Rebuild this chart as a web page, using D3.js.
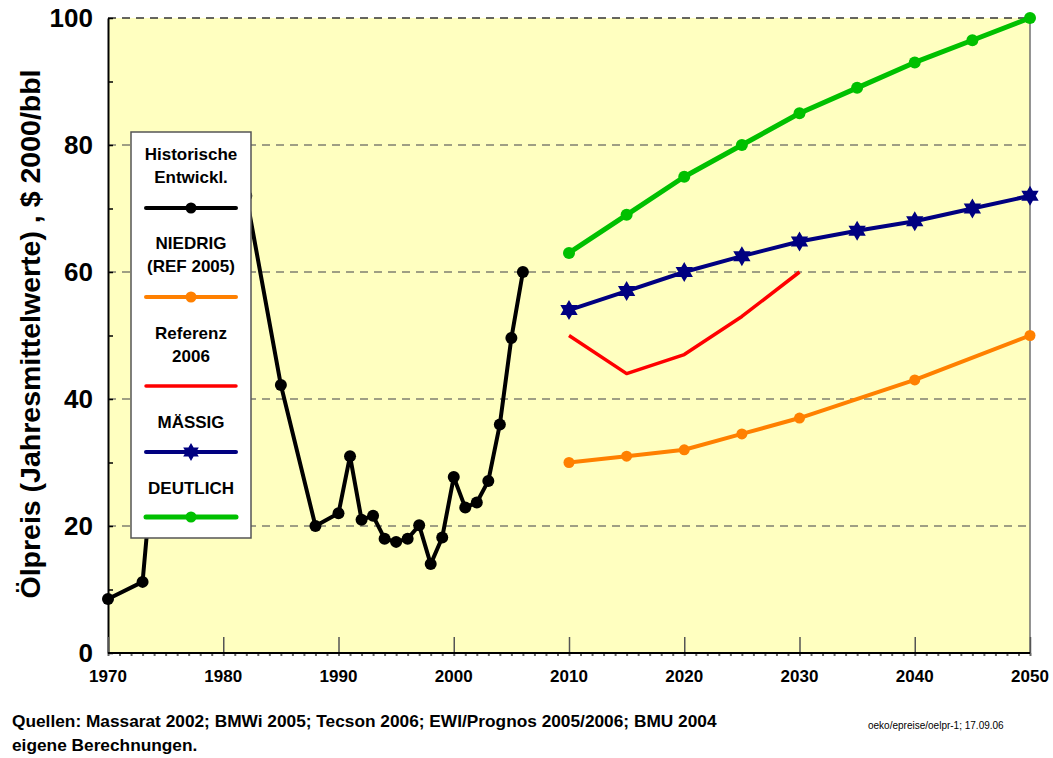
<!DOCTYPE html>
<html>
<head>
<meta charset="utf-8">
<script src="https://d3js.org/d3.v7.min.js"></script>
<style>
  body { margin: 0; background: #fff; }
  svg { font-family: Arial, "Liberation Sans", sans-serif; font-weight: bold; }
</style>
</head>
<body>
<div id="chart"></div>
<script>
// historical oil price (2000 $/bbl)
var histYears = [1970, 1973, 1974, 1979, 1980, 1982, 1985, 1988, 1990, 1991, 1992, 1993, 1994, 1995, 1996, 1997, 1998, 1999, 2000, 2001, 2002, 2003, 2004, 2005, 2006];
var histValues = [8.5, 11.2, 31.5, 60, 78, 72, 42.2, 20, 22, 31, 21, 21.6, 18, 17.5, 18, 20.1, 14, 18.2, 27.7, 22.9, 23.7, 27.1, 36, 49.6, 60];

var scenYears = [2010, 2015, 2020, 2025, 2030, 2035, 2040, 2045, 2050];
var deutlich = [63, 69, 75, 80, 85, 89, 93, 96.5, 100];
var maessig = [54, 57, 60, 62.5, 64.8, 66.5, 68, 70, 72];

var niedrigYears = [2010, 2015, 2020, 2025, 2030, 2040, 2050];
var niedrig = [30, 31, 32, 34.5, 37, 43, 50];

var refYears = [2010, 2015, 2020, 2025, 2030];
var referenz = [50, 44, 47, 53, 60];

var xTicks = [1970, 1980, 1990, 2000, 2010, 2020, 2030, 2040, 2050];
var yTicks = [0, 20, 40, 60, 80, 100];

var width = 1053, height = 758;
var plotLeft = 108, plotRight = 1030, plotTop = 18, plotBottom = 653;

var svg = d3.select("#chart").append("svg")
    .attr("width", width)
    .attr("height", height);

var x = d3.scaleLinear().domain([1970, 2050]).range([plotLeft, plotRight]);
var y = d3.scaleLinear().domain([0, 100]).range([plotBottom, plotTop]);

// plot background
svg.append("rect")
    .attr("x", plotLeft).attr("y", plotTop)
    .attr("width", plotRight - plotLeft).attr("height", plotBottom - plotTop)
    .attr("fill", "#ffffc0");

// dashed gridlines
svg.append("g").selectAll("line")
    .data([20, 40, 60, 80])
    .enter().append("line")
    .attr("x1", plotLeft).attr("x2", plotRight)
    .attr("y1", function(d) { return y(d); })
    .attr("y2", function(d) { return y(d); })
    .attr("stroke", "#808070")
    .attr("stroke-width", 1.5)
    .attr("stroke-dasharray", "8,6");

// top border dashed, right border solid
svg.append("line")
    .attr("x1", plotLeft).attr("x2", plotRight)
    .attr("y1", plotTop).attr("y2", plotTop)
    .attr("stroke", "#333")
    .attr("stroke-width", 1.5)
    .attr("stroke-dasharray", "8,6");
svg.append("line")
    .attr("x1", plotRight).attr("x2", plotRight)
    .attr("y1", plotTop).attr("y2", plotBottom)
    .attr("stroke", "#707070")
    .attr("stroke-width", 1.5);

// y axis: labels outside, minor ticks inside
var yAxis = d3.axisLeft(y).tickValues(yTicks).tickSize(0).tickPadding(15);
var gy = svg.append("g").attr("transform", "translate(" + plotLeft + ",0)").call(yAxis);
gy.select(".domain").attr("stroke", "#000").attr("stroke-width", 2);
gy.selectAll("text")
    .attr("font-size", 26)
    .attr("font-weight", "bold")
    .attr("font-family", "Arial, 'Liberation Sans', sans-serif")
    .attr("fill", "#000");

var yInner = d3.axisRight(y).tickValues(d3.range(0, 101, 10)).tickSize(5).tickFormat("");
var gy2 = svg.append("g").attr("transform", "translate(" + plotLeft + ",0)").call(yInner);
gy2.select(".domain").remove();
gy2.selectAll("line").attr("stroke", "#000").attr("stroke-width", 1.5);

// x axis: major ticks inside, minor marks every year
var xMinor = d3.axisBottom(x).tickValues(d3.range(1970, 2051, 1)).tickSize(3).tickFormat("");
var gx2 = svg.append("g").attr("transform", "translate(0," + plotBottom + ")").call(xMinor);
gx2.select(".domain").remove();
gx2.selectAll("line").attr("stroke", "#666").attr("stroke-width", 2);

var xAxis = d3.axisTop(x).tickValues(xTicks).tickSize(16).tickFormat("");
var gx = svg.append("g").attr("transform", "translate(0," + plotBottom + ")").call(xAxis);
gx.select(".domain").remove();
gx.selectAll("line").attr("stroke", "#555").attr("stroke-width", 1.5);

svg.append("line")
    .attr("x1", plotLeft).attr("x2", plotRight)
    .attr("y1", plotBottom).attr("y2", plotBottom)
    .attr("stroke", "#000").attr("stroke-width", 2);

svg.append("g").selectAll("text")
    .data(xTicks)
    .enter().append("text")
    .attr("x", function(d) { return x(d); })
    .attr("y", 682)
    .attr("text-anchor", "middle")
    .attr("font-size", 17)
    .text(function(d) { return d; });

// y title
svg.append("text")
    .attr("transform", "translate(40,334) rotate(-90)")
    .attr("text-anchor", "middle")
    .attr("font-size", 28.5)
    .text("Ölpreis (Jahresmittelwerte) , $ 2000/bbl");

function zip(xs, vs) {
    return xs.map(function(d, i) { return { year: d, value: vs[i] }; });
}

var line = d3.line()
    .x(function(d) { return x(d.year); })
    .y(function(d) { return y(d.value); });

// six pointed star
function hexagram(r) {
    var tri = function(off) {
        return d3.range(3).map(function(i) {
            var a = off + i * 2 * Math.PI / 3;
            return [r * Math.sin(a), -r * Math.cos(a)];
        });
    };
    var l = d3.line().curve(d3.curveLinearClosed);
    return l(tri(0)) + l(tri(Math.PI));
}

function drawSeries(data, color, w, marker, r) {
    var g = svg.append("g");
    g.append("path")
        .datum(data)
        .attr("d", line)
        .attr("fill", "none")
        .attr("stroke", color)
        .attr("stroke-width", w)
        .attr("stroke-linejoin", "round");
    if (marker == "circle") {
        g.selectAll("circle")
            .data(data)
            .enter().append("circle")
            .attr("cx", function(d) { return x(d.year); })
            .attr("cy", function(d) { return y(d.value); })
            .attr("r", r)
            .attr("fill", color);
    } else if (marker == "star") {
        g.selectAll("path.star")
            .data(data)
            .enter().append("path")
            .attr("class", "star")
            .attr("d", hexagram(r))
            .attr("transform", function(d) { return "translate(" + x(d.year) + "," + y(d.value) + ")"; })
            .attr("fill", color);
    }
}

drawSeries(zip(histYears, histValues), "#000", 4, "circle", 6);
drawSeries(zip(niedrigYears, niedrig), "#ff8000", 4, "circle", 5.5);
drawSeries(zip(refYears, referenz), "#ff0000", 3.5, "none", 0);
drawSeries(zip(scenYears, maessig), "#000080", 4, "star", 10);
drawSeries(zip(scenYears, deutlich), "#00c000", 5, "circle", 6);

// legend
var legend = svg.append("g");
legend.append("rect")
    .attr("x", 131).attr("y", 132)
    .attr("width", 120).attr("height", 406)
    .attr("fill", "#fff")
    .attr("stroke", "#555")
    .attr("stroke-width", 1.5);

var legendItems = [
    { lines: ["Historische", "Entwickl."], color: "#000", width: 4, marker: "circle", ty: 160, ly: 208 },
    { lines: ["NIEDRIG", "(REF 2005)"], color: "#ff8000", width: 4, marker: "circle", ty: 249, ly: 297 },
    { lines: ["Referenz", "2006"], color: "#ff0000", width: 3.5, marker: "none", ty: 339, ly: 386 },
    { lines: ["MÄSSIG"], color: "#000080", width: 4, marker: "star", ty: 428, ly: 452 },
    { lines: ["DEUTLICH"], color: "#00c000", width: 5, marker: "circle", ty: 494, ly: 517 }
];

legendItems.forEach(function(it) {
    it.lines.forEach(function(t, i) {
        legend.append("text")
            .attr("x", 191)
            .attr("y", it.ty + i * 23)
            .attr("text-anchor", "middle")
            .attr("font-size", 17)
            .text(t);
    });
    legend.append("line")
        .attr("x1", 146).attr("x2", 236)
        .attr("y1", it.ly).attr("y2", it.ly)
        .attr("stroke", it.color)
        .attr("stroke-width", it.width)
        .attr("stroke-linecap", "round");
    if (it.marker == "circle") {
        legend.append("circle")
            .attr("cx", 191).attr("cy", it.ly).attr("r", 5.5)
            .attr("fill", it.color);
    } else if (it.marker == "star") {
        legend.append("path")
            .attr("d", hexagram(9))
            .attr("transform", "translate(191," + it.ly + ")")
            .attr("fill", it.color);
    }
});

// footer
svg.append("text")
    .attr("x", 12).attr("y", 727)
    .attr("font-size", 17.3)
    .text("Quellen: Massarat 2002; BMWi 2005; Tecson 2006; EWI/Prognos 2005/2006; BMU 2004");
svg.append("text")
    .attr("x", 12).attr("y", 751)
    .attr("font-size", 17.3)
    .text("eigene Berechnungen.");
svg.append("text")
    .attr("x", 868).attr("y", 729)
    .attr("font-size", 10)
    .attr("font-weight", "normal")
    .text("oeko/epreise/oelpr-1; 17.09.06");
</script>
</body>
</html>
